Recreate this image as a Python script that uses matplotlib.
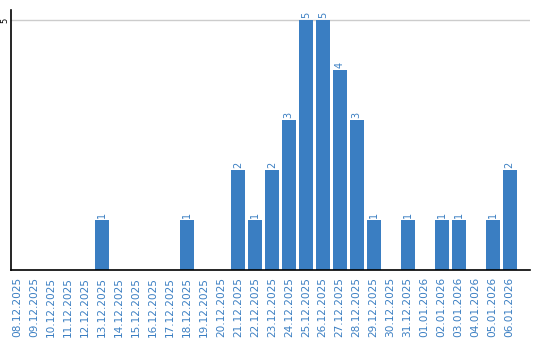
import matplotlib
matplotlib.use("Agg")
import matplotlib.pyplot as plt

dates = ["08.12.2025", "09.12.2025", "10.12.2025", "11.12.2025", "12.12.2025",
         "13.12.2025", "14.12.2025", "15.12.2025", "16.12.2025", "17.12.2025",
         "18.12.2025", "19.12.2025", "20.12.2025", "21.12.2025", "22.12.2025",
         "23.12.2025", "24.12.2025", "25.12.2025", "26.12.2025", "27.12.2025",
         "28.12.2025", "29.12.2025", "30.12.2025", "31.12.2025", "01.01.2026",
         "02.01.2026", "03.01.2026", "04.01.2026", "05.01.2026", "06.01.2026"]
values = [0, 0, 0, 0, 0, 1, 0, 0, 0, 0, 1, 0, 0, 2, 1, 2, 3, 5, 5, 4, 3, 1, 0, 1, 0, 1, 1, 0, 1, 2]

bar_color = "#3a7ec2"
text_color = "#3a7ec2"

fig = plt.figure(figsize=(5.4, 3.4), dpi=100)
ax = fig.add_axes([11/540, 70/340, 519/540, 260/340])
x = list(range(len(dates)))
ax.bar(x, values, width=0.82, color=bar_color, zorder=2)
for xi, v in zip(x, values):
    if v > 0:
        ax.text(xi, v + 0.04, str(v), rotation=90, ha="center", va="bottom",
                fontsize=7, color=text_color)

ax.set_xlim(-0.35, 30.2)
ax.set_ylim(0, 5.2)
ax.set_yticks([5])
ax.set_yticklabels(["5"], rotation=90, va="center", fontsize=6)
ax.tick_params(axis="y", length=0, pad=1.5)
ax.yaxis.grid(True, color="#cccccc", linewidth=1, zorder=0)
ax.set_xticks(x)
ax.set_xticklabels(dates, rotation=90, fontsize=7.6, color=text_color)
ax.tick_params(axis="x", length=0, pad=5)
for s in ["top", "right"]:
    ax.spines[s].set_visible(False)
ax.spines["left"].set_color("black")
ax.spines["bottom"].set_color("black")
ax.spines["left"].set_linewidth(1.2)
ax.spines["bottom"].set_linewidth(1.2)

fig.savefig("out.png", dpi=100)
